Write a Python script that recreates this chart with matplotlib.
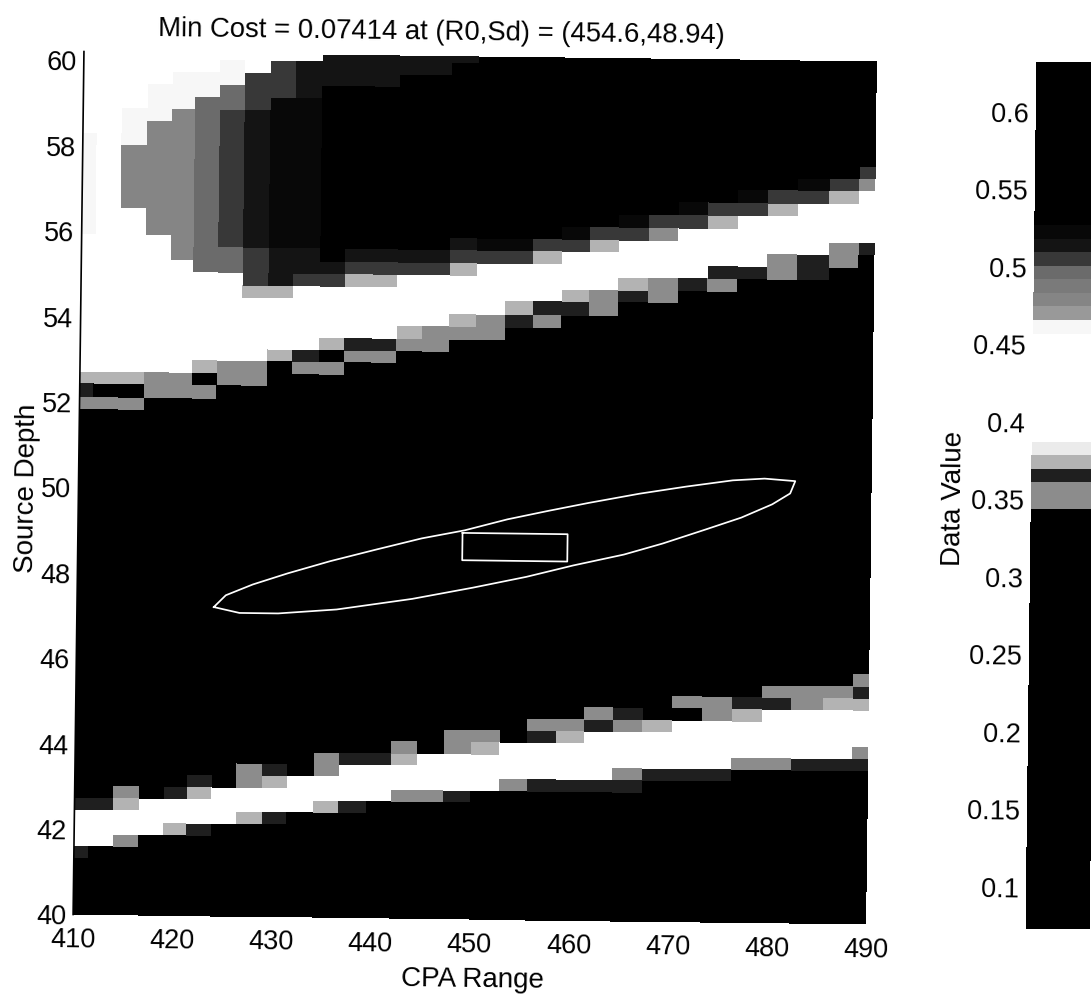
import numpy as np
import matplotlib
matplotlib.use('Agg')
import matplotlib.pyplot as plt
from matplotlib.colors import ListedColormap, Normalize
from matplotlib.transforms import Affine2D

plt.rcParams['font.family'] = ['Liberation Sans', 'DejaVu Sans']

# column and row edges of the cost grid (they are not evenly spaced on the page)
x_edges = [410, 411.4, 413.9, 416.5, 419.0, 421.3, 423.8, 426.3, 428.9, 431.4, 434.1,
           436.6, 439.4, 441.9, 444.5, 447.2, 449.9, 452.8, 455.6, 458.5, 461.3,
           464.2, 467.2, 470.2, 473.2, 476.2, 479.2, 482.2, 485.4, 488.4, 490]
y_edges = [40, 40.19, 40.47, 40.76, 41.04, 41.32, 41.61, 41.89, 42.17, 42.46, 42.74,
           43.02, 43.31, 43.59, 43.87, 44.16, 44.44, 44.72, 45.01, 45.29, 45.57,
           45.86, 46.14, 46.42, 46.71, 46.99, 47.27, 47.56, 47.84, 48.12, 48.41,
           48.69, 48.97, 49.26, 49.54, 49.82, 50.11, 50.39, 50.67, 50.96, 51.24,
           51.52, 51.84, 52.12, 52.44, 52.72, 53.02, 53.29, 53.58, 53.88, 54.17,
           54.50, 54.78, 55.08, 55.37, 55.67, 55.95, 56.25, 56.56, 56.86, 57.17,
           57.45, 57.73, 58.03, 58.31, 58.61, 58.90, 59.19, 59.48, 59.77, 60.06, 60.21]

# cost values by letter
level_values = {'.': 0.2, 'a': 0.348, 'b': 0.365, 'c': 0.374, 'w': 0.42, 'l': 0.462,
                'd': 0.479, 'e': 0.497, 'f': 0.506, 'g': 0.514, 'j': 0.523, 'h': 0.60}

# one string per column, read bottom to top as letter + number of rows
column_runs = [
    '.5 b1 w3 b1 .32 a1 b1 c1 w11 l8 w7',
    '.6 w3 b1 .32 a1 .1 c1 w26',
    '.6 a1 w2 c1 a1 .31 a1 .1 c1 w13 d5 l3 w5',
    '.7 w3 .33 a2 w11 d9 l3 w3',
    '.7 c1 w2 b1 .32 a2 w9 d12 l3 w2',
    '.7 b1 w2 c1 b1 .31 a1 .1 c1 w7 e14 l2 w2',
    '.8 w3 .33 a2 w7 e2 f11 e2 l2 w1',
    '.8 c1 w2 a2 .31 a2 w5 c1 f3 g11 f3 w2',
    '.8 b1 w2 c1 b1 .33 c1 w4 c1 g3 j12 f3 w1',
    '.9 w3 .33 a1 b1 w5 f1 g2 j12 g3 w1',
    '.9 c1 w2 a2 .31 a1 .1 c1 w4 f1 g1 h14 g3',
    '.9 b1 w3 b1 .32 a1 b1 w4 c1 f1 g1 h13 g3',
    '.10 w3 b1 .32 a1 b1 w4 c1 f1 g1 h13 g3',
    '.10 a1 w2 c1 a1 .32 a1 c1 w4 f1 g1 h14 g2',
    '.10 a1 w3 .33 a2 w4 f1 g1 h14 g2',
    '.10 b1 w3 a2 .32 a1 c1 w3 c1 f1 g1 h14 g1',
    '.11 w3 c1 a1 .32 a2 w4 f1 j1 h15',
    '.11 a1 w3 .34 b1 c1 w3 f1 j1 h15',
    '.11 b1 w3 b1 a1 .32 a1 b1 w3 c1 f1 h15',
    '.11 b1 w3 c1 a1 .33 b1 c1 w3 f1 j1 h14',
    '.11 b1 w4 b1 a1 .32 a2 w3 c1 f1 h14',
    '.11 b1 a1 w3 a1 b1 .33 b1 c1 w3 f1 j1 h13',
    '.12 b1 w3 c1 .34 a2 w3 a1 f1 h13',
    '.12 b1 w4 .1 a1 .33 b1 w4 f1 j1 h12',
    '.12 b1 w4 a2 .33 a1 b1 w3 c1 f1 h12',
    '.13 a1 w3 c1 b1 .34 b1 w4 f1 j1 h11',
    '.13 a1 w4 b1 a1 .33 a2 w3 c1 f1 h11',
    '.13 b1 w4 a2 .33 b2 w4 f1 j1 h10',
    '.13 b1 w4 c1 a1 .34 a2 w3 c1 f1 h10',
    '.13 b1 a1 w3 c1 b1 a1 .34 b1 w4 a1 f1 h9',
]

# outer contour and inner box drawn in white
contour_x = [423.8, 425.0, 427.7, 431.2, 435.5, 440.2, 444.7, 449.0, 453.3, 457.4, 461.5,
             466.6, 471.3, 476.0, 479.2, 482.3, 481.8, 480.0, 476.9, 473.3, 469.0, 465.1,
             460.0, 455.3, 449.9, 443.8, 436.2, 430.3, 426.4, 423.8]
contour_y = [47.24, 47.52, 47.78, 48.05, 48.35, 48.64, 48.91, 49.11, 49.38, 49.59, 49.79,
             50.02, 50.20, 50.36, 50.41, 50.36, 50.07, 49.81, 49.49, 49.20, 48.86, 48.59,
             48.32, 48.04, 47.77, 47.49, 47.22, 47.11, 47.11, 47.24]
box_x = [448.8, 459.4, 459.4, 448.8, 448.8]
box_y = [49.05, 49.05, 48.41, 48.41, 49.05]

x_ticks = [410, 420, 430, 440, 450, 460, 470, 480, 490]
y_ticks = [40, 42, 44, 46, 48, 50, 52, 54, 56, 58, 60]
cbar_ticks = [0.1, 0.15, 0.2, 0.25, 0.3, 0.35, 0.4, 0.45, 0.5, 0.55, 0.6]
cbar_labels = ['0.1', '0.15', '0.2', '0.25', '0.3', '0.35', '0.4', '0.45', '0.5', '0.55', '0.6']

# what the scanned 64 step colormap looks like in gray
gray_levels = [0.0] * 31 + [0.55, 0.55, 0.12, 0.7, 0.92] + [1.0] * 8 + \
              [0.97, 0.6, 0.52, 0.48, 0.42, 0.22, 0.08, 0.03] + [0.0] * 12
vmin, vmax = 0.0735, 0.632

title = 'Min Cost = 0.07414 at (R0,Sd) = (454.6,48.94)'
W, H = 1091, 994
tilt_deg = -0.72

cmap = ListedColormap([(g, g, g) for g in gray_levels])
norm = Normalize(vmin, vmax)

grid = []
for col in column_runs:
    rows = []
    for tok in col.split():
        rows += [level_values[tok[0]]] * int(tok[1:])
    grid.append(rows)
grid = np.array(grid).T

fig = plt.figure(figsize=(W / 100, H / 100), dpi=100, facecolor='white')

# main map, the page was scanned slightly crooked so everything gets the same tilt
ax = fig.add_axes([78.5 / W, 1 - 919.5 / H, 793 / W, 863 / H])
tilt = Affine2D().rotate_deg_around(475, H - 488, tilt_deg)
tr = ax.transData + tilt
mesh = ax.pcolormesh(x_edges, y_edges, grid, cmap=cmap, norm=norm, antialiased=False)
mesh.set_transform(tr)
mesh.set_clip_on(False)
ax.plot(contour_x, contour_y, color='white', lw=1.25, transform=tr, clip_on=False)
ax.plot(box_x, box_y, color='white', lw=1.25, transform=tr, clip_on=False)
ax.plot([410, 410], [40, 60.21], color='black', lw=1.2, transform=tr, clip_on=False)
ax.set_xlim(410, 490)
ax.set_ylim(40, 60.21)
for s in ax.spines.values():
    s.set_visible(False)
ax.patch.set_visible(False)
ax.set_xticks(x_ticks)
ax.set_yticks(y_ticks)
ax.tick_params(axis='both', length=0, labelsize=19.5)
ax.tick_params(axis='x', pad=9)
ax.tick_params(axis='y', pad=5)
for lab in ax.get_xticklabels() + ax.get_yticklabels():
    lab.set_transform(lab.get_transform() + tilt)
    lab.set_rotation(tilt_deg)
ax.set_xlabel('CPA Range', fontsize=20, rotation=tilt_deg)
ax.xaxis.set_label_coords(0.497, -0.054)
ax.set_ylabel('Source Depth', fontsize=20, rotation=90 + tilt_deg)
ax.yaxis.set_label_coords(-0.049, 0.5)
ax.set_title(title, fontsize=19.8, rotation=tilt_deg, x=0.458, y=1.006)

# colorbar, runs off the right side of the page
cax = fig.add_axes([1031 / W, 1 - 928.5 / H, 64 / W, 866 / H])
cbar_tilt = Affine2D().rotate_deg_around(1063, H - 495, tilt_deg)
cbar_edges = np.linspace(vmin, vmax, 65)
cbar_vals = (cbar_edges[:-1] + cbar_edges[1:]) / 2
cbar_mesh = cax.pcolormesh([0, 1], cbar_edges, cbar_vals[:, None], cmap=cmap, norm=norm,
                           antialiased=False)
cbar_mesh.set_transform(cax.transData + cbar_tilt)
cbar_mesh.set_clip_on(False)
cax.set_xlim(0, 1)
cax.set_ylim(vmin, vmax)
for s in cax.spines.values():
    s.set_visible(False)
cax.patch.set_visible(False)
cax.set_xticks([])
cax.set_yticks(cbar_ticks)
cax.set_yticklabels(cbar_labels)
cax.tick_params(axis='y', length=0, labelsize=19.5, pad=5)
for lab in cax.get_yticklabels():
    lab.set_transform(lab.get_transform() + cbar_tilt)
    lab.set_rotation(tilt_deg)
cax.set_ylabel('Data Value', fontsize=20, rotation=90 + tilt_deg)
cax.yaxis.set_label_coords(-1.0, 0.497)

fig.savefig('out.png', dpi=100)
